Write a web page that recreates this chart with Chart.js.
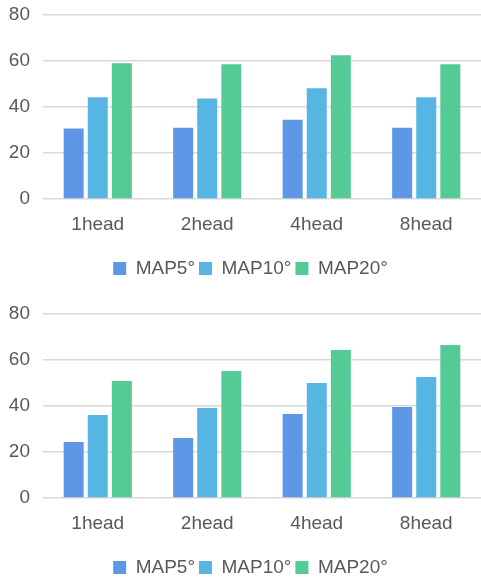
<!DOCTYPE html>
<html>
<head>
<meta charset="utf-8">
<script src="https://cdn.jsdelivr.net/npm/chart.js@4"></script>
<style>
  html, body { margin: 0; padding: 0; background: #fff; overflow: hidden; }
  .box { position: absolute; left: 0; width: 481px; height: 290px; }
  #b1 { top: 0; }
  #b2 { top: 299px; }
</style>
</head>
<body>
<div class="box" id="b1"><canvas id="c1"></canvas></div>
<div class="box" id="b2"><canvas id="c2"></canvas></div>
<script>
const categories = ["1head", "2head", "4head", "8head"];
const seriesNames = ["MAP5°", "MAP10°", "MAP20°"];
const yTicks = [0, 20, 40, 60, 80];

// Top chart
const top_MAP5 = [30.6, 31.0, 34.5, 31.0];
const top_MAP10 = [44.2, 43.7, 48.1, 44.2];
const top_MAP20 = [59.0, 58.6, 62.5, 58.6];

// Bottom chart
const bot_MAP5 = [24.3, 26.1, 36.5, 39.6];
const bot_MAP10 = [36.1, 39.1, 50.0, 52.6];
const bot_MAP20 = [50.9, 55.2, 64.3, 66.5];

const colors = ["#5E97E6", "#56B5E3", "#54CA95"];
const FONT = "'Liberation Sans', Arial, sans-serif";
const TEXT = "#595959";

const shiftLegend = {
  id: "shiftLegend",
  afterLayout(chart) { if (chart.legend) chart.legend.left += 20; }
};

function makeChart(id, series) {
  new Chart(document.getElementById(id), {
    type: "bar",
    data: {
      labels: categories,
      datasets: series.map((d, i) => ({
        label: seriesNames[i],
        data: d,
        backgroundColor: colors[i],
        borderWidth: 0,
        categoryPercentage: 0.66,
        barPercentage: 0.83
      }))
    },
    plugins: [shiftLegend],
    options: {
      responsive: true,
      maintainAspectRatio: false,
      animation: false,
      layout: { padding: { top: 15, left: 0, right: 0, bottom: 2 } },
      plugins: {
        tooltip: { enabled: false },
        legend: {
          position: "bottom",
          labels: {
            boxWidth: 13, boxHeight: 13, padding: 4,
            color: TEXT,
            font: { family: FONT, size: 19 }
          }
        }
      },
      scales: {
        x: {
          grid: { display: false, drawTicks: false },
          border: { display: false },
          ticks: { color: TEXT, font: { family: FONT, size: 19 }, padding: 14 },
          afterFit: s => { s.height = 56; }
        },
        y: {
          min: 0, max: 80,
          afterBuildTicks: s => { s.ticks = yTicks.map(v => ({ value: v })); },
          grid: { color: "#D9D9D9", lineWidth: 1.5, drawTicks: false },
          border: { display: false },
          ticks: { color: TEXT, font: { family: FONT, size: 19 }, padding: 13 },
          afterFit: s => { s.width = 43; s.paddingTop = 0; s.paddingBottom = 0; }
        }
      }
    }
  });
}

makeChart("c1", [top_MAP5, top_MAP10, top_MAP20]);
makeChart("c2", [bot_MAP5, bot_MAP10, bot_MAP20]);
</script>
</body>
</html>
